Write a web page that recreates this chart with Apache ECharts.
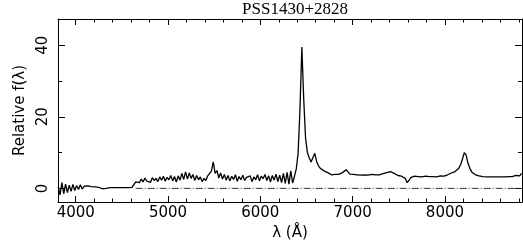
<!DOCTYPE html>
<html>
<head>
<meta charset="utf-8">
<script src="https://cdn.jsdelivr.net/npm/echarts@6/dist/echarts.min.js"></script>
<style>
  html, body { margin: 0; padding: 0; background: #fff; }
  #chart { width: 523px; height: 248px; }
</style>
</head>
<body>
<div id="chart"></div>
<script>
var chartTitle = 'PSS1430+2828';

// spectrum sampled every 20 A starting at 3810 A
var waveStart = 3810;
var waveStep = 20;
var flux = [
  0.5, -1.8, 1.6, -1.5, 1.2, -1.2, 0.9, -0.8, 1.1, -0.6,   // 3810
  0.8, -0.3, 1.0, -0.2, 0.6, 0.3, 0.7, 0.2, 0.5, 0.3,      // 4010
  0.4, 0.1, 0.3, 0.0, -0.1, 0.1, 0.0, 0.1, 0.2, 0.1,       // 4210
  0.2, 0.3, 0.2, 0.3, 0.2, 0.3, 0.2, 0.3, 0.2, 0.3,        // 4410
  0.3, 0.6, 1.8, 2.3, 1.6, 2.6, 1.8, 2.9, 2.0, 2.4,        // 4610
  1.7, 3.0, 2.2, 2.8, 1.9, 3.2, 2.3, 3.4, 2.0, 3.1,        // 4810
  2.4, 3.6, 2.1, 3.3, 1.8, 3.5, 2.3, 4.2, 2.5, 4.6,        // 5010
  2.6, 4.3, 2.8, 3.9, 2.2, 3.6, 2.4, 3.2, 1.9, 2.8,        // 5210
  2.2, 3.5, 3.0, 4.8, 7.4, 4.2, 5.0, 2.9, 4.3, 2.6,        // 5410
  3.9, 2.3, 3.6, 2.1, 3.4, 2.5, 3.8, 2.0, 3.3, 2.4,        // 5610
  3.7, 2.2, 3.1, 2.6, 3.5, 1.9, 3.2, 2.4, 3.8, 2.1,        // 5810
  3.4, 2.7, 3.9, 2.2, 3.5, 1.8, 3.6, 2.3, 4.0, 1.9,        // 6010
  3.7, 1.6, 4.2, 1.4, 4.5, 1.2, 4.9, 1.5, 3.4, 5.5,        // 6210
  10.0, 22.5, 39.5, 25.0, 14.0, 10.0, 8.5, 7.4, 8.6, 9.8,  // 6410
  7.5, 6.3, 5.6, 5.2, 4.9, 4.6, 4.4, 4.2, 3.8, 3.6,        // 6610
  3.9, 4.1, 3.9, 4.0, 4.4, 4.9, 5.2, 4.6, 4.0, 3.7,        // 6810
  3.9, 3.6, 3.8, 3.5, 3.7, 3.6, 3.8, 3.5, 3.7, 3.6,        // 7010
  3.9, 3.7, 3.8, 3.9, 3.8, 4.0, 4.1, 4.2, 4.4, 4.5,        // 7210
  4.7, 4.5, 4.2, 3.8, 3.6, 3.5, 3.4, 3.2, 2.8, 1.6,        // 7410
  2.2, 3.0, 3.2, 3.4, 3.2, 3.3, 3.4, 3.2, 3.3, 3.4,        // 7610
  3.2, 3.3, 3.5, 3.3, 3.4, 3.2, 3.3, 3.5, 3.3, 3.4,        // 7810
  3.6, 3.8, 4.0, 4.3, 4.5, 4.7, 5.0, 5.6, 6.6, 8.2,        // 8010
  10.0, 9.3, 7.0, 5.6, 4.6, 4.1, 3.8, 3.6, 3.5, 3.4,       // 8210
  3.3, 3.3, 3.2, 3.3, 3.2, 3.1, 3.2, 3.1, 3.2, 3.3,        // 8410
  3.2, 3.3, 3.2, 3.4, 3.3, 3.2, 3.3, 3.5, 3.6, 3.8,        // 8610
  3.5, 4.2                                                 // 8810
];

// dash-dot zero level
var zeroWave = [4650, 8835];
var zeroFlux = [0, 0];

var xRange = [3808, 8835];
var yRange = [-3.8, 47.3];
var xMajor = [4000, 5000, 6000, 7000, 8000];
var xMinor = [4000, 4200, 4400, 4600, 4800, 5000, 5200, 5400, 5600, 5800, 6000, 6200,
  6400, 6600, 6800, 7000, 7200, 7400, 7600, 7800, 8000, 8200, 8400, 8600, 8800];
var yMajor = [0, 20, 40];
var yMinor = [10, 30];

var font = 'DejaVu Sans';
var ink = '#000';

function plain(v) { return String(v); }

function xAx(pos, ticks, len, withLine, withLabel) {
  return {
    type: 'value', position: pos, min: xRange[0], max: xRange[1],
    axisLine: { show: withLine, onZero: false, lineStyle: { color: ink, width: 1 } },
    axisTick: { show: true, inside: true, length: len, customValues: ticks, lineStyle: { color: ink, width: 1 } },
    axisLabel: { show: withLabel, customValues: ticks, formatter: plain, margin: 4, color: ink, fontFamily: font, fontSize: 15 },
    splitLine: { show: false }
  };
}
function yAx(pos, ticks, len, withLine, withLabel) {
  return {
    type: 'value', position: pos, min: yRange[0], max: yRange[1],
    axisLine: { show: withLine, onZero: false, lineStyle: { color: ink, width: 1 } },
    axisTick: { show: true, inside: true, length: len, customValues: ticks, lineStyle: { color: ink, width: 1 } },
    axisLabel: { show: withLabel, customValues: ticks, formatter: plain, rotate: 90, margin: 7, color: ink, fontFamily: font, fontSize: 15 },
    splitLine: { show: false }
  };
}

var xAxes = [
  xAx('bottom', xMajor, 6, true, true),
  xAx('bottom', xMinor, 3.5, false, false),
  xAx('top', xMajor, 6, true, false),
  xAx('top', xMinor, 3.5, false, false)
];
xAxes[0].name = 'λ (Å)';
xAxes[0].nameLocation = 'middle';
xAxes[0].nameGap = 22;
xAxes[0].nameTextStyle = { color: ink, fontFamily: font, fontSize: 15 };

var yAxes = [
  yAx('left', yMajor, 7, true, true),
  yAx('left', yMinor, 4, false, false),
  yAx('right', yMajor, 7, true, false),
  yAx('right', yMinor, 4, false, false)
];
yAxes[0].name = 'Relative f(λ)';
yAxes[0].nameLocation = 'middle';
yAxes[0].nameGap = 28;
yAxes[0].nameTextStyle = { color: ink, fontFamily: font, fontSize: 15 };

var chart = echarts.init(document.getElementById('chart'), null, { renderer: 'canvas' });
chart.setOption({
  animation: false,
  backgroundColor: '#fff',
  title: {
    text: chartTitle, left: 290, top: -4, textAlign: 'center',
    textStyle: { color: ink, fontFamily: 'Liberation Serif', fontWeight: 'normal', fontSize: 17 }
  },
  grid: { left: 58, top: 19, width: 464, height: 183 },
  xAxis: xAxes,
  yAxis: yAxes,
  series: [
    {
      type: 'line', xAxisIndex: 0, yAxisIndex: 0, showSymbol: false, silent: true,
      data: flux.map(function (f, i) { return [waveStart + waveStep * i, f]; }),
      lineStyle: { color: ink, width: 1.3 }
    },
    {
      type: 'line', xAxisIndex: 0, yAxisIndex: 0, showSymbol: false, silent: true,
      data: zeroWave.map(function (w, i) { return [w, zeroFlux[i]]; }),
      lineStyle: { color: '#333', width: 1, type: [7, 2, 1, 2] }
    }
  ]
});
</script>
</body>
</html>
